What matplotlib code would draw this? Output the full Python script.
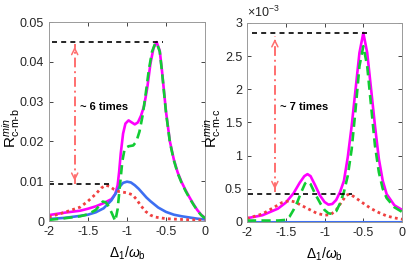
import matplotlib
matplotlib.use("Agg")
import matplotlib.pyplot as plt

plt.rcParams['font.family'] = ['Liberation Sans', 'DejaVu Sans']
plt.rcParams['axes.unicode_minus'] = False
plt.rcParams['mathtext.fontset'] = 'custom'
plt.rcParams['mathtext.rm'] = 'Liberation Sans'
plt.rcParams['mathtext.it'] = 'Liberation Sans:italic'

# ---- left panel: R_c-m-b ----
mag_b_x = [-2.0, -1.8, -1.6, -1.5, -1.4, -1.3, -1.2, -1.15, -1.12, -1.10, -1.08, -1.05, -1.02,
           -0.98, -0.94, -0.90, -0.86, -0.82, -0.78, -0.74, -0.70, -0.66, -0.62, -0.58, -0.55,
           -0.50, -0.45, -0.40, -0.35, -0.30, -0.25, -0.20, -0.15, -0.10, -0.05, 0.0]
mag_b_y = [0.0015, 0.0021, 0.0026, 0.0031, 0.0037, 0.0045, 0.0055, 0.0068, 0.0090, 0.0125, 0.017,
           0.022, 0.0245, 0.0253, 0.0248, 0.0243, 0.0248, 0.0265, 0.029, 0.0335, 0.0395, 0.0435,
           0.0450, 0.0428, 0.0375, 0.0275, 0.0200, 0.0155, 0.0122, 0.0098, 0.0078, 0.0060,
           0.0043, 0.0028, 0.0016, 0.0008]

grn_b_x = [-2.0, -1.8, -1.6, -1.5, -1.4, -1.35, -1.31, -1.27, -1.23, -1.19, -1.15, -1.12, -1.09,
           -1.06, -1.03, -0.98, -0.92, -0.88, -0.84, -0.80, -0.76, -0.72, -0.68, -0.64, -0.62,
           -0.58, -0.55, -0.50, -0.45, -0.40, -0.35, -0.30, -0.25, -0.20, -0.15, -0.10, -0.05, 0.0]
grn_b_y = [0.0003, 0.0007, 0.0012, 0.0017, 0.0028, 0.0040, 0.0049, 0.0047, 0.0035, 0.0018, 0.0,
           0.0030, 0.0090, 0.0150, 0.0182, 0.0188, 0.0190, 0.0200, 0.0225, 0.0265, 0.0320, 0.0380,
           0.0425, 0.0446, 0.0448, 0.0426, 0.0373, 0.0273, 0.0198, 0.0153, 0.0120, 0.0096, 0.0076,
           0.0058, 0.0042, 0.0027, 0.0015, 0.0007]

blu_b_x = [-2.0, -1.8, -1.6, -1.5, -1.4, -1.3, -1.2, -1.15, -1.1, -1.05, -1.0, -0.95, -0.9, -0.85,
           -0.8, -0.75, -0.7, -0.6, -0.5, -0.4, -0.3, -0.2, -0.1, 0.0]
blu_b_y = [0.0005, 0.0008, 0.0013, 0.0016, 0.0022, 0.0032, 0.0052, 0.0068, 0.0085, 0.0096, 0.0099,
           0.0097, 0.0090, 0.0081, 0.0070, 0.0059, 0.0050, 0.0034, 0.0023, 0.0016, 0.0012, 0.0009,
           0.0006, 0.0004]

red_b_x = [-2.0, -1.8, -1.6, -1.5, -1.4, -1.33, -1.27, -1.22, -1.17, -1.1, -1.0, -0.93, -0.88,
           -0.82, -0.76, -0.7, -0.64, -0.5, -0.3, 0.0]
red_b_y = [0.0010, 0.0022, 0.0035, 0.0050, 0.0068, 0.0083, 0.0090, 0.0087, 0.0080, 0.0074, 0.0071,
           0.0066, 0.0055, 0.0038, 0.0024, 0.0015, 0.0010, 0.0006, 0.0004, 0.0002]

# ---- right panel: R_c-m-c (units of 1e-3) ----
mag_c_x = [-2.0, -1.8, -1.6, -1.5, -1.4, -1.32, -1.26, -1.22, -1.18, -1.12, -1.06, -1.0, -0.95,
           -0.9, -0.85, -0.8, -0.75, -0.7, -0.65, -0.6, -0.55, -0.5, -0.45, -0.4, -0.35, -0.3,
           -0.25, -0.2, -0.1, 0.0]
mag_c_y = [0.055, 0.10, 0.20, 0.29, 0.43, 0.59, 0.69, 0.72, 0.69, 0.55, 0.40, 0.30, 0.26, 0.27,
           0.33, 0.45, 0.62, 0.98, 1.45, 2.0, 2.55, 2.85, 2.55, 2.0, 1.45, 0.95, 0.62, 0.42,
           0.25, 0.18]

grn_c_x = [-2.0, -1.6, -1.5, -1.45, -1.4, -1.35, -1.3, -1.25, -1.22, -1.18, -1.12, -1.05, -1.0,
           -0.95, -0.9, -0.85, -0.8, -0.75, -0.7, -0.65, -0.6, -0.55, -0.5, -0.45, -0.4, -0.35,
           -0.3, -0.25, -0.2, -0.1, 0.0]
grn_c_y = [0.02, 0.02, 0.03, 0.08, 0.18, 0.30, 0.45, 0.58, 0.61, 0.57, 0.42, 0.27, 0.18, 0.13,
           0.12, 0.16, 0.28, 0.45, 0.70, 1.10, 1.70, 2.35, 2.65, 2.35, 1.75, 1.15, 0.75, 0.50,
           0.36, 0.22, 0.15]

blu_c_x = [-2.0, -1.0, 0.0]
blu_c_y = [0.004, 0.004, 0.004]

red_c_x = [-2.0, -1.8, -1.65, -1.55, -1.45, -1.38, -1.3, -1.2, -1.1, -1.0, -0.92, -0.85, -0.78,
           -0.72, -0.68, -0.62, -0.5, -0.4, -0.3, -0.2, -0.1, 0.0]
red_c_y = [0.05, 0.12, 0.22, 0.29, 0.32, 0.30, 0.25, 0.19, 0.13, 0.10, 0.11, 0.18, 0.30, 0.40,
           0.42, 0.38, 0.28, 0.20, 0.14, 0.09, 0.06, 0.04]

MAG = '#ff00ff'
GRN = '#11cc33'
BLU = '#3d6ff2'
RED = '#f04040'
ARR = '#ff6f6f'

fig = plt.figure(figsize=(4.15, 2.77), dpi=100)
axL = fig.add_axes([0.118, 0.202, 0.376, 0.718])
axR = fig.add_axes([0.595, 0.199, 0.374, 0.718])


def style(ax):
    ax.set_xlim(-2, 0)
    ax.set_xticks([-2, -1.5, -1, -0.5, 0])
    ax.set_xticklabels(['-2', '-1.5', '-1', '-0.5', '0'])
    ax.tick_params(direction='in', top=True, right=True, labelsize=9, length=3, width=0.6,
                   color='#262626', labelcolor='#262626')
    for s in ax.spines.values():
        s.set_color('#9a9a9a')
        s.set_linewidth(0.7)
    ax.set_xlabel(r'$\Delta_1/\omega_\mathrm{b}$', fontsize=10, labelpad=5)


def double_arrow(ax, x, y0, y1, head):
    # dash-dot shaft with open heads at both ends
    ax.plot([x, x], [y0, y1], color=ARR, lw=1.4, ls='-.', dashes=(5, 2, 1, 2))
    ax.annotate('', xy=(x, y1), xytext=(x, y1 - head),
                arrowprops=dict(arrowstyle='->', color=ARR, lw=1.1, mutation_scale=11))
    ax.annotate('', xy=(x, y0), xytext=(x, y0 + head),
                arrowprops=dict(arrowstyle='->', color=ARR, lw=1.1, mutation_scale=11))


# left
axL.plot(mag_b_x, mag_b_y, color=MAG, lw=1.9)
axL.plot(blu_b_x, blu_b_y, color=BLU, lw=1.9)
axL.plot(red_b_x, red_b_y, color=RED, lw=2.0, ls=(0, (1, 1.2)))
axL.plot(grn_b_x, grn_b_y, color=GRN, lw=1.9, ls=(0, (3.5, 2)))
axL.plot([-1.965, -0.54], [0.045, 0.045], 'k--', lw=1.2, dashes=(3, 2.5))
axL.plot([-2.0, -1.2], [0.0092, 0.0092], 'k--', lw=1.2, dashes=(3, 2.5))
double_arrow(axL, -1.67, 0.0094, 0.0445, 0.002)
axL.text(-1.6, 0.0287, '~ 6 times', fontsize=8, fontweight='bold', va='center')
axL.set_ylim(0, 0.05)
axL.set_yticks([0, 0.01, 0.02, 0.03, 0.04, 0.05])
axL.set_yticklabels(['0', '0.01', '0.02', '0.03', '0.04', '0.05'])
style(axL)
axL.set_ylabel(r'R$_\mathrm{c\text{-}m\text{-}b}^{\mathit{min}}$', fontsize=11)
axL.yaxis.set_label_coords(-0.172, 0.47)

# right
sc = 1e-3
axR.plot(mag_c_x, [v * sc for v in mag_c_y], color=MAG, lw=1.9)
axR.plot(blu_c_x, [v * sc for v in blu_c_y], color=BLU, lw=2.2)
axR.plot(red_c_x, [v * sc for v in red_c_y], color=RED, lw=2.0, ls=(0, (1, 1.2)))
axR.plot(grn_c_x, [v * sc for v in grn_c_y], color=GRN, lw=1.9, ls=(0, (3.5, 2)))
axR.plot([-1.94, -0.43], [2.85e-3, 2.85e-3], 'k--', lw=1.2, dashes=(3, 2.5))
axR.plot([-1.98, -0.65], [0.42e-3, 0.42e-3], 'k--', lw=1.2, dashes=(3, 2.5))
double_arrow(axR, -1.64, 0.45e-3, 2.8e-3, 0.12e-3)
axR.text(-1.57, 1.73e-3, '~ 7 times', fontsize=8, fontweight='bold', va='center')
axR.set_ylim(0, 3e-3)
axR.set_yticks([0, 0.5e-3, 1e-3, 1.5e-3, 2e-3, 2.5e-3, 3e-3])
axR.set_yticklabels(['0', '0.5', '1', '1.5', '2', '2.5', '3'])
axR.text(0.0, 1.015, r'$\times10^{-3}$', transform=axR.transAxes, fontsize=9, color='#262626',
         va='bottom', ha='left')
style(axR)
axR.set_ylabel(r'R$_\mathrm{c\text{-}m\text{-}c}^{\mathit{min}}$', fontsize=11)
axR.yaxis.set_label_coords(-0.155, 0.47)

fig.savefig('out.png', dpi=100)
